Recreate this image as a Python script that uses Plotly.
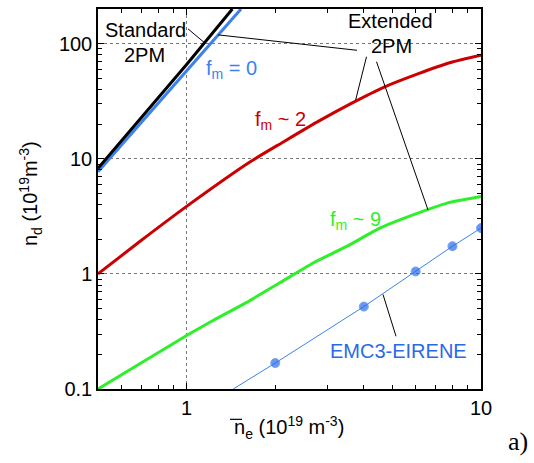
import plotly.graph_objects as go
import math

# ---- data ----
std_x = [0.5, 1.0, 1.43]
std_y = [8.25, 66.0, 200.0]

fm0_x = [0.5, 1.0, 1.53]
fm0_y = [7.73, 58.0, 200.0]

fm2_x = [0.5, 0.695, 1.0, 1.645, 2.13, 2.77, 3.60, 4.67, 6.07, 7.88, 10.0]
fm2_y = [1.0, 1.92, 3.86, 9.42, 14.0, 20.8, 30.0, 41.8, 54.4, 68.6, 79.3]

fm9_x = [0.5, 0.7, 1.0, 1.23, 1.60, 2.08, 2.70, 3.51, 4.55, 5.91, 7.67, 10.0]
fm9_y = [0.1, 0.168, 0.292, 0.394, 0.566, 0.841, 1.25, 1.74, 2.51, 3.27, 4.12, 4.70]

emc_x = [1.44, 2.0, 4.0, 6.0, 8.0, 10.0]
emc_y = [0.1, 0.168, 0.52, 1.05, 1.74, 2.5]
emc_marker = [0, 9, 9, 9, 9, 9]

x_ticks = [1, 10]
x_ticktext = ["1", "10"]
y_ticks = [0.1, 1, 10, 100]
y_ticktext = ["0.1", "1", "10", "100"]
x_minor = [0.6, 0.7, 0.8, 0.9, 2, 3, 4, 5, 6, 7, 8, 9]
y_minor = [0.2, 0.3, 0.4, 0.5, 0.6, 0.7, 0.8, 0.9,
           2, 3, 4, 5, 6, 7, 8, 9, 20, 30, 40, 50, 60, 70, 80, 90, 200]

# ---- layout geometry ----
W, H = 534, 463
ML, MR, MT, MB = 98, 53, 7, 74
PW, PH = W - ML - MR, H - MT - MB


def px(x):
    return (x - ML) / PW


def py(y):
    return (H - MB - y) / PH


FONT = "Liberation Sans, Arial, sans-serif"
RED = "#cc0000"
GREEN = "#2ef02a"
BLUE = "#3b82f0"
BLUE_D = "#2a6ae8"

fig = go.Figure()
fig.add_trace(go.Scatter(x=fm9_x, y=fm9_y, mode="lines",
                         line=dict(color=GREEN, width=3, shape="spline",
                                   smoothing=0.6), showlegend=False))
fig.add_trace(go.Scatter(x=fm2_x, y=fm2_y, mode="lines",
                         line=dict(color=RED, width=3, shape="spline",
                                   smoothing=0.6), showlegend=False))
fig.add_trace(go.Scatter(x=emc_x, y=emc_y, mode="lines+markers",
                         line=dict(color=BLUE, width=1),
                         marker=dict(color=BLUE_D, size=emc_marker),
                         showlegend=False))
fig.add_trace(go.Scatter(x=fm0_x, y=fm0_y, mode="lines",
                         line=dict(color=BLUE, width=3), showlegend=False))
fig.add_trace(go.Scatter(x=std_x, y=std_y, mode="lines",
                         line=dict(color="black", width=3), showlegend=False))

axis_common = dict(
    type="log", showline=True, linecolor="black", linewidth=1.5,
    mirror="ticks", ticks="inside", ticklen=6, tickcolor="black",
    tickmode="array", showgrid=True, gridcolor="#777", griddash="dot",
    gridwidth=1, zeroline=False,
    tickfont=dict(family=FONT, size=20, color="black"),
)

fig.update_xaxes(**axis_common, range=[math.log10(0.5), 1],
                 tickvals=x_ticks, ticktext=x_ticktext,
                 minor=dict(tickmode="array", tickvals=x_minor, ticks="inside",
                            ticklen=4, tickcolor="black", showgrid=False))
fig.update_yaxes(**axis_common, range=[-1, math.log10(200)],
                 tickvals=y_ticks, ticktext=y_ticktext,
                 minor=dict(tickmode="array", tickvals=y_minor, ticks="inside",
                            ticklen=4, tickcolor="black", showgrid=False))

ann = []


def txt(t, cx, cy, color="black", size=20, family=FONT, angle=0):
    ann.append(dict(text=t, x=px(cx), y=py(cy), xref="paper", yref="paper",
                    xanchor="center", yanchor="middle", showarrow=False,
                    textangle=angle,
                    font=dict(family=family, size=size, color=color)))


txt("Standard", 145, 28)
txt("2PM", 144, 53)
txt("Extended", 390, 19)
txt("2PM", 391, 44.5)
txt("f<sub>m</sub> = 0", 231, 68, BLUE)
txt("f<sub>m</sub> ~ 2", 280, 119, RED)
txt("f<sub>m</sub> ~ 9", 355, 220, GREEN)
txt("EMC3-EIRENE", 398, 350.5, BLUE_D)
txt("a)", 518, 442, size=26, family="Liberation Serif, serif")
txt("n<sub>d</sub> (10<sup>19</sup>m<sup>-3</sup>)", 30, 193, angle=-90)
txt("n<sub>e</sub> (10<sup>19</sup> m<sup>-3</sup>)", 289, 428)

fig.update_layout(annotations=ann)

shapes = []


def seg(x0, y0, x1, y1, w=1, color="black"):
    shapes.append(dict(type="line", xref="paper", yref="paper",
                       x0=px(x0), y0=py(y0), x1=px(x1), y1=py(y1),
                       line=dict(color=color, width=w)))


seg(188, 27, 204, 40.5)
seg(218, 33, 357, 48.5)
seg(366.5, 55, 355.5, 99)
seg(376.5, 60, 428, 209)
seg(383, 294, 396, 336)
# overline on n of x-axis title
seg(230, 419.5, 242, 419.5, w=1.2)

fig.update_layout(shapes=shapes)

fig.update_layout(
    width=W, height=H,
    margin=dict(l=ML, r=MR, t=MT, b=MB, pad=0),
    paper_bgcolor="white", plot_bgcolor="white",
    font=dict(family=FONT, color="black"),
)

fig.write_html("out.html")
